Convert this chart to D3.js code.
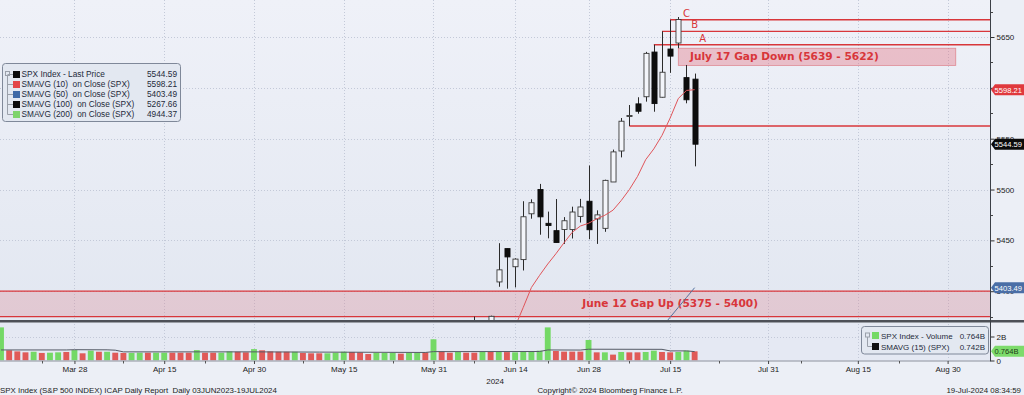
<!DOCTYPE html>
<html>
<head>
<meta charset="utf-8">
<script src="https://cdn.jsdelivr.net/npm/d3@7"></script>
<style>
html, body { margin: 0; padding: 0; background: #eceff6; }
svg { display: block; font-family: "Liberation Sans", Arial, sans-serif; }
</style>
</head>
<body>
<div id="chart"></div>
<script>
//Datos
const HOLIDAYS = ['2024-03-29', '2024-05-27', '2024-06-19', '2024-07-04', '2024-09-02'];

//Velas (OHLC)
const candleDates = ['2024-06-07','2024-06-10','2024-06-11','2024-06-12','2024-06-13','2024-06-14','2024-06-17','2024-06-18','2024-06-20','2024-06-21','2024-06-24','2024-06-25','2024-06-26','2024-06-27','2024-06-28','2024-07-01','2024-07-02','2024-07-03','2024-07-05','2024-07-08','2024-07-09','2024-07-10','2024-07-11','2024-07-12','2024-07-15','2024-07-16','2024-07-17','2024-07-18'];
const opens  = [5343.81,5341.22,5353.00,5409.13,5441.93,5424.08,5431.11,5476.15,5499.99,5466.77,5459.58,5460.73,5460.71,5473.59,5488.48,5471.08,5461.84,5507.44,5537.91,5572.75,5584.24,5591.26,5635.21,5590.76,5638.16,5644.09,5610.07,5608.56];
const highs  = [5375.08,5365.79,5375.95,5447.25,5441.93,5432.39,5488.50,5490.38,5505.53,5478.31,5490.66,5472.88,5483.14,5490.81,5523.64,5479.55,5509.69,5539.27,5570.33,5583.11,5590.75,5635.39,5642.45,5655.56,5666.94,5669.67,5622.49,5614.05];
const lows   = [5331.33,5331.52,5327.25,5404.37,5402.51,5403.75,5420.40,5471.32,5455.56,5452.03,5447.59,5446.56,5451.87,5467.54,5451.12,5446.53,5458.43,5507.42,5531.63,5562.51,5574.57,5586.44,5576.53,5590.44,5614.75,5639.02,5584.81,5522.81];
const closes = [5346.99,5360.79,5375.32,5421.03,5433.74,5431.60,5473.23,5487.03,5473.17,5464.62,5447.87,5469.30,5477.90,5482.87,5460.48,5475.09,5509.01,5537.02,5567.19,5572.85,5576.98,5633.91,5584.54,5615.35,5631.22,5667.20,5588.27,5544.59];

//Medias móviles
const sma10Dates = candleDates.slice(2);
const sma10Values = [5314.48,5329.89,5349.71,5365.12,5384.10,5403.67,5415.59,5426.75,5436.84,5447.69,5457.95,5464.13,5466.81,5471.16,5474.73,5479.73,5489.14,5499.96,5512.87,5529.33,5539.99,5553.24,5570.32,5589.53,5597.45,5598.21];
const sma50Dates = ['2024-07-12','2024-07-15','2024-07-16','2024-07-17','2024-07-18'];
const sma50Values = [5364.7,5374.4,5384.1,5393.8,5403.49];

//Volumen (miles de millones), desde el 15 de marzo
const volumes = [2.76,0.85,0.76,0.68,0.73,0.63,0.65,0.68,0.71,0.87,
  0.60,0.82,0.73,0.73,0.65,0.63,0.63,0.65,0.65,0.65,0.65,0.65,0.65,0.65,0.87,0.65,0.65,0.65,0.76,0.73,0.68,0.95,
  0.85,0.76,0.73,0.73,0.73,0.63,0.60,0.60,0.60,0.65,0.73,0.71,0.68,0.54,0.65,0.63,0.65,0.57,0.65,0.65,0.68,1.77,
  0.76,0.65,0.71,0.65,0.65,0.73,0.71,0.73,0.70,0.68,0.71,0.74,0.82,2.76,0.79,0.74,0.74,0.74,1.71,
  0.68,0.68,0.49,0.71,0.68,0.68,0.71,0.82,0.71,0.68,0.71,0.82,0.764];
const volUp = [1,0,0,0,1,0,1,1,0,1,
  0,1,0,1,0,0,1,1,0,1,1,0,0,0,1,0,0,1,1,0,0,1,
  0,0,0,0,1,0,0,0,1,1,1,0,0,0,1,1,1,0,1,1,0,1,
  0,0,1,0,0,1,0,1,0,1,1,1,1,1,0,0,0,0,1,
  0,1,0,1,0,0,1,1,0,0,1,1,0];
const volSmaDates = ['2024-03-15','2024-03-27','2024-03-28','2024-04-04','2024-04-05','2024-04-08','2024-04-30','2024-05-10','2024-05-30','2024-05-31','2024-06-20','2024-06-21','2024-06-27','2024-06-28','2024-07-12','2024-07-15','2024-07-17','2024-07-18'];
const volSmaValues = [0.88,0.88,0.90,0.89,0.86,0.72,0.72,0.70,0.67,0.74,0.75,0.88,0.87,0.94,0.93,0.80,0.80,0.742];

//Niveles y zonas
const levelNames = ['A', 'B', 'C', ''];
const levelDates = ['2024-07-11', '2024-07-12', '2024-07-15', '2024-07-08'];
const levelValues = [5642.45, 5655.56, 5666.94, 5562.51];
const levelLabelDates = ['2024-07-19', '2024-07-18', '2024-07-17', ''];

const zoneTexts = ['June 12 Gap Up (5375 - 5400)', 'July 17 Gap Down (5639 - 5622)'];
const zoneLow = [5375, 5622];
const zoneHigh = [5400, 5639];
const zoneStart = [null, '2024-07-16'];
const zoneEnd = [null, '2024-09-03'];
const zoneTextDates = ['2024-07-15', '2024-08-02'];

//Ejes
const priceTicks = [5400, 5450, 5500, 5550, 5600, 5650];
const priceLabels = [5400, 5450, 5500, 5550, 5650];
const priceMinor = [5375, 5425, 5475, 5525, 5575, 5625, 5675];
const labelDates = ['2024-03-28','2024-04-15','2024-04-30','2024-05-15','2024-05-31','2024-06-14','2024-06-28','2024-07-15','2024-07-31','2024-08-15','2024-08-30'];
const minorDates = ['2024-03-22','2024-04-08','2024-04-22','2024-05-08','2024-05-23','2024-06-07','2024-06-21','2024-07-08','2024-07-23','2024-08-06','2024-08-22'];

//Leyenda
const legendNames = ['SPX Index - Last Price', 'SMAVG (10)  on Close (SPX)', 'SMAVG (50)  on Close (SPX)', 'SMAVG (100)  on Close (SPX)', 'SMAVG (200)  on Close (SPX)'];
const legendValues = ['5544.59', '5598.21', '5403.49', '5267.66', '4944.37'];

//Colores fijos
const RED = '#d8363a', RED_SMA = '#e0555a', BLUE_SMA = '#55729f',
  GREEN_VOL = '#74d966', RED_VOL = '#e05a58';

const W = 1024, H = 395;
const AXIS_X = 990;
const PRICE_TOP = 0, PRICE_BOTTOM = 320, VOL_TOP = 322.5, VOL_BOTTOM = 360.5;

const fmt = d3.timeFormat('%Y-%m-%d');
const parse = d3.timeParse('%Y-%m-%d');

//Días hábiles del eje
const tradingDays = d3.timeDay.range(new Date(2024, 2, 15), new Date(2024, 8, 10))
  .filter(function(d) { return d.getDay() % 6 !== 0 && HOLIDAYS.indexOf(fmt(d)) < 0; })
  .map(fmt);

const svg = d3.select('#chart').append('svg')
  .attr('width', W).attr('height', H);

const defs = svg.append('defs');
let grad = defs.append('linearGradient').attr('id', 'bg').attr('x1', 0).attr('x2', 0).attr('y1', 0).attr('y2', 1);
grad.append('stop').attr('offset', '0%').attr('stop-color', '#eff1f8');
grad.append('stop').attr('offset', '100%').attr('stop-color', '#e2e7f1');
defs.append('clipPath').attr('id', 'clipPrice').append('rect')
  .attr('x', 0).attr('y', PRICE_TOP).attr('width', AXIS_X).attr('height', PRICE_BOTTOM - PRICE_TOP);
defs.append('clipPath').attr('id', 'clipVol').append('rect')
  .attr('x', 0).attr('y', VOL_TOP).attr('width', AXIS_X).attr('height', VOL_BOTTOM - VOL_TOP);

//Fondo
svg.append('rect').attr('width', W).attr('height', H).attr('fill', '#eceff6');
svg.append('rect').attr('x', 0).attr('y', PRICE_TOP).attr('width', AXIS_X).attr('height', PRICE_BOTTOM - PRICE_TOP).attr('fill', 'url(#bg)');
svg.append('rect').attr('x', 0).attr('y', VOL_TOP).attr('width', AXIS_X).attr('height', VOL_BOTTOM - VOL_TOP).attr('fill', '#e5e9f3');

//Escalas
let x = d3.scalePoint().domain(tradingDays).range([1, 988.4]);
let step = x.step();
let y = d3.scaleLinear().domain([5371.7, 5686.4]).range([PRICE_BOTTOM, PRICE_TOP]);
let yVol = d3.scaleLinear().domain([0, 3.1667]).range([VOL_BOTTOM, VOL_TOP]);

//Rejilla
let grid = svg.append('g').attr('stroke', '#c3c9d8').attr('stroke-dasharray', '1,2').attr('stroke-width', 1);
grid.selectAll('.gy').data(priceTicks).enter().append('line')
  .attr('x1', 0).attr('x2', AXIS_X)
  .attr('y1', function(d) { return Math.round(y(d)) + 0.5; })
  .attr('y2', function(d) { return Math.round(y(d)) + 0.5; });
grid.selectAll('.gx').data(labelDates).enter().append('line')
  .attr('x1', function(d) { return Math.round(x(d)) + 0.5; })
  .attr('x2', function(d) { return Math.round(x(d)) + 0.5; })
  .attr('y1', PRICE_TOP).attr('y2', VOL_BOTTOM);
grid.append('line').attr('x1', 0).attr('x2', AXIS_X)
  .attr('y1', Math.round(yVol(2)) + 0.5).attr('y2', Math.round(yVol(2)) + 0.5);

//Panel de precio
let price = svg.append('g').attr('clip-path', 'url(#clipPrice)');

//Zonas de gap
zoneTexts.forEach(function(t, i) {
  let x0 = zoneStart[i] ? x(zoneStart[i]) : 0;
  let x1 = zoneEnd[i] ? x(zoneEnd[i]) : AXIS_X;
  let y0 = y(zoneHigh[i]), y1 = y(zoneLow[i]);
  price.append('rect')
    .attr('x', x0).attr('y', y0).attr('width', x1 - x0).attr('height', y1 - y0)
    .attr('fill', i == 0 ? 'rgba(225,110,125,0.25)' : 'rgba(225,110,125,0.38)')
    .attr('stroke', i == 0 ? 'none' : 'rgba(215,80,90,0.55)').attr('stroke-width', 0.8);
  if (i == 0) {
    price.append('line').attr('x1', x0).attr('x2', x1).attr('y1', y0).attr('y2', y0).attr('stroke', RED).attr('stroke-width', 1.3);
    price.append('line').attr('x1', x0).attr('x2', x1).attr('y1', y1).attr('y2', y1).attr('stroke', RED).attr('stroke-width', 1.3);
  }
  price.append('text')
    .attr('x', x(zoneTextDates[i]))
    .attr('y', (y0 + y1) / 2 + 3.5)
    .attr('text-anchor', 'middle')
    .attr('font-family', '"DejaVu Sans", sans-serif')
    .attr('font-weight', 700)
    .attr('font-size', '10.6px')
    .attr('fill', RED)
    .text(t);
});

//Niveles A, B, C y soporte
levelValues.forEach(function(v, i) {
  let lx = x(levelDates[i]), ly = y(v);
  price.append('line')
    .attr('x1', lx).attr('x2', AXIS_X).attr('y1', ly).attr('y2', ly)
    .attr('stroke', RED).attr('stroke-width', 1.4);
  if (levelNames[i]) {
    price.append('text')
      .attr('x', x(levelLabelDates[i]))
      .attr('y', ly - 3)
      .attr('text-anchor', 'middle')
      .attr('font-family', '"DejaVu Sans", sans-serif')
      .attr('font-size', '10px')
      .attr('fill', RED)
      .text(levelNames[i]);
  }
});

//Velas
let candles = price.selectAll('.candle').data(candleDates).enter().append('g').attr('class', 'candle');
let bodyW = step * 0.62;
candles.append('line')
  .attr('x1', function(d) { return Math.round(x(d)) + 0.5; })
  .attr('x2', function(d) { return Math.round(x(d)) + 0.5; })
  .attr('y1', function(d, i) { return y(highs[i]); })
  .attr('y2', function(d, i) { return y(lows[i]); })
  .attr('stroke', '#2a2a2a').attr('stroke-width', 1);
candles.append('rect')
  .attr('x', function(d) { return Math.round(x(d)) + 0.5 - bodyW / 2; })
  .attr('y', function(d, i) { return y(Math.max(opens[i], closes[i])); })
  .attr('width', bodyW)
  .attr('height', function(d, i) { return Math.max(1, Math.abs(y(opens[i]) - y(closes[i]))); })
  .attr('fill', function(d, i) { return closes[i] < opens[i] ? '#0d0d0d' : '#f3f5fa'; })
  .attr('stroke', function(d, i) { return closes[i] < opens[i] ? '#0d0d0d' : '#3a3a3a'; })
  .attr('stroke-width', 0.9);

//Medias
let line = d3.line().x(function(d) { return x(d[0]); }).y(function(d) { return y(d[1]); });
price.append('path')
  .datum(d3.zip(sma10Dates, sma10Values))
  .attr('d', line).attr('fill', 'none').attr('stroke', RED_SMA).attr('stroke-width', 1);
price.append('path')
  .datum(d3.zip(sma50Dates, sma50Values))
  .attr('d', line).attr('fill', 'none').attr('stroke', BLUE_SMA).attr('stroke-width', 1);

//Panel de volumen
let vol = svg.append('g').attr('clip-path', 'url(#clipVol)');
let barW = step * 0.72;
vol.selectAll('.vbar').data(volumes).enter().append('rect')
  .attr('x', function(d, i) { return x(tradingDays[i]) - barW / 2; })
  .attr('y', function(d) { return yVol(d); })
  .attr('width', barW)
  .attr('height', function(d) { return yVol(0) - yVol(d); })
  .attr('fill', function(d, i) { return volUp[i] ? GREEN_VOL : RED_VOL; });
vol.append('path')
  .datum(d3.zip(volSmaDates, volSmaValues))
  .attr('d', d3.line().x(function(d) { return x(d[0]); }).y(function(d) { return yVol(d[1]); }))
  .attr('fill', 'none').attr('stroke', '#555b66').attr('stroke-width', 1);

//Separadores de paneles
svg.append('line').attr('x1', 0).attr('x2', W).attr('y1', 321.2).attr('y2', 321.2).attr('stroke', '#4d5057').attr('stroke-width', 2.6);
svg.append('line').attr('x1', 0).attr('x2', AXIS_X).attr('y1', VOL_BOTTOM + 0.5).attr('y2', VOL_BOTTOM + 0.5).attr('stroke', '#8b919c').attr('stroke-width', 1);

//Eje derecho precio (la etiqueta 5600 queda tapada por la media de 10)
let yAxis = svg.append('g').attr('transform', 'translate(' + (AXIS_X + 0.5) + ',0)')
  .call(d3.axisRight(y).tickValues(priceTicks).tickSize(4).tickPadding(2)
    .tickFormat(function(d) { return priceLabels.indexOf(d) >= 0 ? d3.format('d')(d) : ''; }));
yAxis.select('.domain').remove();
yAxis.selectAll('text').attr('font-size', '8px').attr('fill', '#222').attr('font-family', '"Liberation Sans", Arial, sans-serif');
yAxis.selectAll('line').attr('stroke', '#333');
svg.append('g').selectAll('line').data(priceMinor).enter().append('line')
  .attr('x1', AXIS_X).attr('x2', AXIS_X + 3)
  .attr('y1', function(d) { return Math.round(y(d)) + 0.5; })
  .attr('y2', function(d) { return Math.round(y(d)) + 0.5; })
  .attr('stroke', '#444');

let vAxis = svg.append('g').attr('transform', 'translate(' + (AXIS_X + 0.5) + ',0)')
  .call(d3.axisRight(yVol).tickValues([0, 2]).tickSize(4).tickPadding(2).tickFormat(function(d) { return d ? d + 'B' : '0'; }));
vAxis.select('.domain').remove();
vAxis.selectAll('text').attr('font-size', '8px').attr('fill', '#222').attr('font-family', '"Liberation Sans", Arial, sans-serif');
vAxis.selectAll('line').attr('stroke', '#333');

svg.append('line').attr('x1', AXIS_X + 0.5).attr('x2', AXIS_X + 0.5).attr('y1', 0).attr('y2', VOL_BOTTOM + 1)
  .attr('stroke', '#3b3f46').attr('stroke-width', 1);

//Etiquetas de valor
function valueTag(yPos, label, fill, color) {
  let g = svg.append('g');
  g.append('path')
    .attr('d', 'M' + (AXIS_X + 1) + ',' + yPos + 'L' + (AXIS_X + 5) + ',' + (yPos - 5.5) + 'L' + W + ',' + (yPos - 5.5) +
      'L' + W + ',' + (yPos + 5.5) + 'L' + (AXIS_X + 5) + ',' + (yPos + 5.5) + 'Z')
    .attr('fill', fill);
  g.append('text').attr('x', AXIS_X + 4.5).attr('y', yPos + 3)
    .attr('font-size', '7.6px').attr('fill', color).text(label);
}
valueTag(y(sma10Values[sma10Values.length - 1]), '5598.21', '#e0393d', '#fff');
valueTag(y(closes[closes.length - 1]), '5544.59', '#0b0b0b', '#fff');
valueTag(y(sma50Values[sma50Values.length - 1]), '5403.49', '#4a6ea6', '#fff');
valueTag(yVol(volumes[volumes.length - 1]), '0.764B', '#7ddb6b', '#1d3a18');

//Eje X
let xAxis = svg.append('g').attr('transform', 'translate(0,' + (VOL_BOTTOM + 0.5) + ')')
  .call(d3.axisBottom(x).tickValues(labelDates).tickSize(3).tickPadding(2)
    .tickFormat(function(d) { return d3.timeFormat('%b %d')(parse(d)); }));
xAxis.select('.domain').remove();
xAxis.selectAll('text').attr('font-size', '8px').attr('fill', '#222').attr('font-family', '"Liberation Sans", Arial, sans-serif');
xAxis.selectAll('line').attr('stroke', '#444');
svg.append('g').attr('transform', 'translate(0,' + (VOL_BOTTOM + 0.5) + ')')
  .selectAll('line').data(minorDates).enter().append('line')
  .attr('x1', function(d) { return Math.round(x(d)) + 0.5; })
  .attr('x2', function(d) { return Math.round(x(d)) + 0.5; })
  .attr('y1', 0).attr('y2', 2.5).attr('stroke', '#555');

svg.append('text').attr('x', x('2024-06-14') - 20).attr('y', 384).attr('text-anchor', 'middle')
  .attr('font-size', '8px').attr('fill', '#222').text('2024');

//Pie
svg.append('text').attr('x', 0).attr('y', 393).attr('font-size', '7.9px').attr('fill', '#222')
  .style('white-space', 'pre')
  .text('SPX Index (S&P 500 INDEX) ICAP Daily Report  Daily 03JUN2023-19JUL2024');
svg.append('text').attr('x', 610).attr('y', 393).attr('text-anchor', 'middle').attr('font-size', '7.9px').attr('fill', '#222')
  .text('Copyright\u00a9 2024 Bloomberg Finance L.P.');
svg.append('text').attr('x', 1021).attr('y', 393).attr('text-anchor', 'end').attr('font-size', '7.9px').attr('fill', '#222')
  .text('19-Jul-2024 08:34:59');

//Leyenda principal
let legendColors = ['#0b0b0b', '#e34548', '#3f69a6', '#0b0b0b', '#7ed46c'];
let lg = svg.append('g');
lg.append('rect').attr('x', 2.5).attr('y', 63.5).attr('width', 178).attr('height', 58).attr('rx', 3)
  .attr('fill', '#e3e8f1').attr('stroke', '#7f8899').attr('stroke-width', 1);
lg.append('rect').attr('x', 5.5).attr('y', 71.5).attr('width', 4).attr('height', 4).attr('fill', 'none').attr('stroke', '#9aa0aa');
lg.append('line').attr('x1', 7.5).attr('x2', 7.5).attr('y1', 76).attr('y2', 114.5).attr('stroke', '#9aa0aa');
legendNames.forEach(function(name, i) {
  let ry = 74 + i * 10;
  lg.append('line').attr('x1', 7.5).attr('x2', 13).attr('y1', ry + 0.5).attr('y2', ry + 0.5).attr('stroke', '#9aa0aa');
  lg.append('rect').attr('x', 13).attr('y', ry - 3).attr('width', 7).attr('height', 7).attr('fill', legendColors[i]);
  lg.append('text').attr('x', 21.5).attr('y', ry + 3).attr('font-size', '8.3px').attr('fill', '#1e2a3a')
    .style('white-space', 'pre').text(name);
  lg.append('text').attr('x', 177).attr('y', ry + 3).attr('text-anchor', 'end').attr('font-size', '8.3px').attr('fill', '#1e2a3a')
    .text(legendValues[i]);
});

//Leyenda de volumen
let vl = svg.append('g');
vl.append('rect').attr('x', 861.5).attr('y', 326.5).attr('width', 127).attr('height', 27.5).attr('rx', 3)
  .attr('fill', '#e3e8f1').attr('stroke', '#7f8899');
vl.append('rect').attr('x', 865.5).attr('y', 333).attr('width', 4).attr('height', 4).attr('fill', 'none').attr('stroke', '#9aa0aa');
vl.append('line').attr('x1', 867.5).attr('x2', 867.5).attr('y1', 337).attr('y2', 346.5).attr('stroke', '#9aa0aa');
vl.append('line').attr('x1', 867.5).attr('x2', 872).attr('y1', 346.5).attr('y2', 346.5).attr('stroke', '#9aa0aa');
vl.append('rect').attr('x', 872).attr('y', 332).attr('width', 7).attr('height', 7).attr('fill', GREEN_VOL);
vl.append('rect').attr('x', 872).attr('y', 343).attr('width', 7).attr('height', 7).attr('fill', '#111');
vl.append('text').attr('x', 881).attr('y', 339).attr('font-size', '8px').attr('fill', '#1e2a3a').text('SPX Index - Volume');
vl.append('text').attr('x', 985).attr('y', 339).attr('text-anchor', 'end').attr('font-size', '8px').attr('fill', '#1e2a3a').text('0.764B');
vl.append('text').attr('x', 881).attr('y', 350).attr('font-size', '8px').attr('fill', '#1e2a3a').text('SMAVG (15) (SPX)');
vl.append('text').attr('x', 985).attr('y', 350).attr('text-anchor', 'end').attr('font-size', '8px').attr('fill', '#1e2a3a').text('0.742B');
</script>
</body>
</html>
